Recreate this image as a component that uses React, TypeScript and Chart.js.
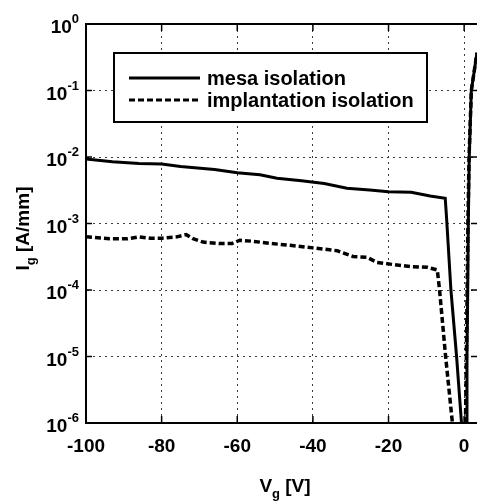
import React, { useEffect, useRef } from 'react';
import { Chart, registerables } from 'chart.js';

Chart.register(...registerables);

// ---------- data ----------
const xTicks = [-100, -80, -60, -40, -20, 0];
const yTickValues = [1, 1e-1, 1e-2, 1e-3, 1e-4, 1e-5, 1e-6];
const yTickLabels = [
  ['10', '0'],
  ['10', '-1'],
  ['10', '-2'],
  ['10', '-3'],
  ['10', '-4'],
  ['10', '-5'],
  ['10', '-6'],
];
const seriesLabels = ['mesa isolation', 'implantation isolation'];
const xTitle = ['V', 'g', ' [V]'];
const yTitle = ['I', 'g', ' [A/mm]'];

// mesa isolation (solid)
const mesaV = [
  -100, -93, -86, -80, -75, -66, -60, -54, -49.5, -43, -37, -31, -25, -20, -14, -9, -5.0,
  -4.6, -3.5, -2.0, -0.7,
  0,
  0.5, 0.75, 0.95, 1.1, 1.35, 1.9, 3.4,
];
const mesaI = [
  9.3e-3, 8.5e-3, 8.0e-3, 7.85e-3, 7.2e-3, 6.5e-3, 5.8e-3, 5.4e-3, 4.8e-3, 4.4e-3, 4.0e-3,
  3.4e-3, 3.2e-3, 3.0e-3, 2.95e-3, 2.6e-3, 2.4e-3,
  1.1e-3, 1e-4, 1e-5, 1e-6,
  null,
  1e-6, 1e-5, 1e-4, 1e-3, 1e-2, 1e-1, 0.37,
];

// implantation isolation (dashed)
const implV = [
  -100, -93.7, -89, -86, -83, -80, -76, -73.5, -71.7, -69, -64.5, -61.4, -59.3, -55.8, -51,
  -46, -40, -33.6, -29.4, -25.7, -23, -19.6, -14.3, -9.8, -7.1,
  -6.5, -4.9, -3.1,
  0,
  0.35, 0.6, 0.8, 1.0, 1.3, 1.9, 3.4,
];
const implI = [
  6.3e-4, 5.9e-4, 5.9e-4, 6.3e-4, 6.0e-4, 6.0e-4, 6.3e-4, 6.8e-4, 5.9e-4, 5.25e-4, 5.0e-4,
  5.0e-4, 5.6e-4, 5.4e-4, 5.0e-4, 4.7e-4, 4.3e-4, 3.9e-4, 3.2e-4, 3.1e-4, 2.6e-4, 2.45e-4,
  2.25e-4, 2.2e-4, 2.0e-4,
  1e-4, 1e-5, 1e-6,
  null,
  1e-6, 1e-5, 1e-4, 1e-3, 1e-2, 1e-1, 0.37,
];

// ---------- styling ----------
const FONT = '"Liberation Sans", Arial, Helvetica, sans-serif';
const GRID_COLOR = '#3a3a3a';

const toPoints = (xs: number[], ys: (number | null)[]) =>
  xs.map((x, i) => ({ x, y: ys[i] }));

const decorPlugin = {
  id: 'decor',
  afterDraw(chart: any) {
    const { ctx, chartArea: a, scales } = chart;
    const x = scales.x;
    const y = scales.y;
    ctx.save();

    const line = (x1: number, y1: number, x2: number, y2: number) => {
      ctx.beginPath();
      ctx.moveTo(x1, y1);
      ctx.lineTo(x2, y2);
      ctx.stroke();
    };

    // top frame
    ctx.strokeStyle = '#000';
    ctx.lineWidth = 2;
    ctx.setLineDash([]);
    line(a.left - 1, a.top, a.right, a.top);

    // inward tick marks
    ctx.lineWidth = 1.5;
    yTickValues.forEach((v) => {
      const py = y.getPixelForValue(v);
      line(a.left, py, a.left + 6, py);
      line(a.right - 6, py, a.right, py);
    });
    xTicks.forEach((v) => {
      const px = x.getPixelForValue(v);
      line(px, a.bottom, px, a.bottom - 7);
      line(px, a.top, px, a.top + 7);
    });

    // y tick labels with superscript exponent
    ctx.fillStyle = '#000';
    ctx.textBaseline = 'alphabetic';
    ctx.textAlign = 'left';
    const R = 79;
    yTickValues.forEach((v, i) => {
      const py = y.getPixelForValue(v);
      const [base, exp] = yTickLabels[i];
      ctx.font = `bold 19px ${FONT}`;
      const w1 = ctx.measureText(base).width;
      ctx.font = `bold 13px ${FONT}`;
      const w2 = ctx.measureText(exp).width;
      const x1 = R - w1 - w2;
      ctx.font = `bold 19px ${FONT}`;
      ctx.fillText(base, x1, py + 9);
      ctx.font = `bold 13px ${FONT}`;
      ctx.fillText(exp, x1 + w1, py - 1);
    });

    // x title
    {
      const cx = 285;
      const by = 492;
      ctx.font = `bold 19px ${FONT}`;
      const wa = ctx.measureText(xTitle[0]).width;
      const wc = ctx.measureText(xTitle[2]).width;
      ctx.font = `bold 13px ${FONT}`;
      const wb = ctx.measureText(xTitle[1]).width;
      const sx = cx - (wa + wb + wc) / 2;
      ctx.font = `bold 19px ${FONT}`;
      ctx.fillText(xTitle[0], sx, by);
      ctx.font = `bold 13px ${FONT}`;
      ctx.fillText(xTitle[1], sx + wa, by + 6);
      ctx.font = `bold 19px ${FONT}`;
      ctx.fillText(xTitle[2], sx + wa + wb, by);
    }

    // y title (rotated)
    {
      ctx.save();
      ctx.translate(29, (a.top + a.bottom) / 2 + 5);
      ctx.rotate(-Math.PI / 2);
      ctx.font = `bold 19px ${FONT}`;
      const wa = ctx.measureText(yTitle[0]).width;
      const wc = ctx.measureText(yTitle[2]).width;
      ctx.font = `bold 13px ${FONT}`;
      const wb = ctx.measureText(yTitle[1]).width;
      const sx = -(wa + wb + wc) / 2;
      ctx.font = `bold 19px ${FONT}`;
      ctx.fillText(yTitle[0], sx, 0);
      ctx.font = `bold 13px ${FONT}`;
      ctx.fillText(yTitle[1], sx + wa, 6);
      ctx.font = `bold 19px ${FONT}`;
      ctx.fillText(yTitle[2], sx + wa + wb, 0);
      ctx.restore();
    }

    // legend
    {
      const bx = 114, bw = 313, byy = 53, bh = 69;
      ctx.fillStyle = '#fff';
      ctx.fillRect(bx, byy, bw, bh);
      ctx.strokeStyle = '#000';
      ctx.lineWidth = 2;
      ctx.setLineDash([]);
      ctx.strokeRect(bx, byy, bw, bh);
      const rows = [78, 100];
      chart.data.datasets.forEach((ds: any, i: number) => {
        const ry = rows[i];
        ctx.strokeStyle = '#000';
        ctx.lineWidth = 3;
        ctx.setLineDash(ds.borderDash || []);
        line(129, ry, 200, ry);
        ctx.setLineDash([]);
        ctx.fillStyle = '#000';
        ctx.font = `bold 20px ${FONT}`;
        ctx.textBaseline = 'middle';
        ctx.fillText(ds.label, 207, ry + 1);
      });
    }

    ctx.restore();
  },
};

export default function App() {
  const ref = useRef<HTMLCanvasElement | null>(null);

  useEffect(() => {
    if (!ref.current) return;
    const gridCommon = {
      color: GRID_COLOR,
      lineWidth: 1,
      drawTicks: false,
    };
    const borderCommon = { display: true, color: '#000', width: 2, dash: [2, 4] };
    const chart = new Chart(ref.current, {
      type: 'line',
      data: {
        datasets: [
          {
            label: seriesLabels[0],
            data: toPoints(mesaV, mesaI),
            borderColor: '#000',
            borderWidth: 3,
            pointRadius: 0,
            tension: 0,
            fill: false,
            spanGaps: false,
          },
          {
            label: seriesLabels[1],
            data: toPoints(implV, implI),
            borderColor: '#000',
            borderWidth: 3.5,
            borderDash: [6, 3],
            pointRadius: 0,
            tension: 0,
            fill: false,
            spanGaps: false,
          },
        ],
      },
      options: {
        animation: false,
        responsive: false,
        devicePixelRatio: 1,
        layout: { padding: { top: 24, right: 0, left: 0, bottom: 0 } },
        plugins: {
          legend: { display: false },
          tooltip: { enabled: false },
          title: { display: false },
        },
        scales: {
          x: {
            type: 'linear',
            min: -100,
            max: 3.4,
            afterBuildTicks: (s: any) => {
              s.ticks = xTicks.map((v) => ({ value: v }));
            },
            afterFit: (s: any) => {
              s.height = 78;
              s.paddingLeft = 0;
              s.paddingRight = 0;
            },
            grid: gridCommon,
            border: borderCommon,
            ticks: {
              color: '#000',
              font: { family: FONT, size: 19, weight: 'bold' },
              padding: 12,
              maxRotation: 0,
              autoSkip: false,
              callback: (v: any) => String(v),
            },
          },
          y: {
            type: 'logarithmic',
            min: 1e-6,
            max: 1,
            afterBuildTicks: (s: any) => {
              s.ticks = yTickValues.map((v) => ({ value: v }));
            },
            afterFit: (s: any) => {
              s.width = 86;
              s.paddingTop = 0;
              s.paddingBottom = 0;
            },
            grid: gridCommon,
            border: borderCommon,
            ticks: { display: false },
          },
        },
      },
      plugins: [decorPlugin],
    } as any);
    return () => chart.destroy();
  }, []);

  return (
    <div style={{ position: 'absolute', left: 0, top: 0, width: 477, height: 501, background: '#fff' }}>
      <canvas ref={ref} width={477} height={501} style={{ display: 'block' }} />
    </div>
  );
}
